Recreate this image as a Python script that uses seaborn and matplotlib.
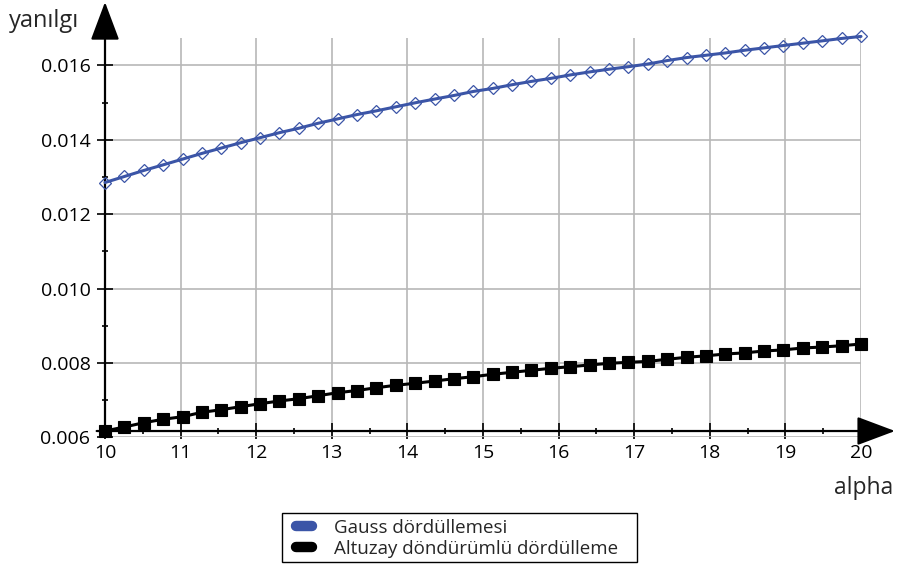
import numpy as np
import pandas as pd
import matplotlib
matplotlib.use("Agg")
import matplotlib.pyplot as plt
from matplotlib.lines import Line2D
from matplotlib.patches import Rectangle
from matplotlib.ticker import MultipleLocator, FormatStrFormatter
import seaborn as sns

# alpha sample grid (40 evenly spaced points from 10 to 20)
alpha = np.linspace(10, 20, 40)

gauss = [0.012849, 0.013011, 0.013173, 0.013324, 0.013478, 0.013632, 0.013776, 0.013919,
         0.014054, 0.014189, 0.014308, 0.014443, 0.014559, 0.014676, 0.014776, 0.014884,
         0.014992, 0.015092, 0.015189, 0.015297, 0.015378, 0.015478, 0.015568, 0.015649,
         0.015741, 0.015822, 0.015895, 0.015962, 0.016035, 0.016127, 0.016208, 0.016270,
         0.016332, 0.016405, 0.016468, 0.016532, 0.016595, 0.016657, 0.016722, 0.016776]

altuzay = [0.006169, 0.006277, 0.006392, 0.006484, 0.006554, 0.006672, 0.006742, 0.006823,
           0.006903, 0.006976, 0.007038, 0.007118, 0.007199, 0.007258, 0.007333, 0.007398,
           0.007452, 0.007513, 0.007575, 0.007629, 0.007694, 0.007747, 0.007801, 0.007855,
           0.007898, 0.007944, 0.007989, 0.008016, 0.008040, 0.008097, 0.008151, 0.008190,
           0.008239, 0.008270, 0.008320, 0.008350, 0.008401, 0.008427, 0.008462, 0.008508]

series_names = ["Gauss dördüllemesi", "Altuzay döndürümlü dördülleme"]
x_label = "alpha"
y_label = "yanılgı"

blue = "#3b55a7"
black = "#000000"

sns.set_style("white")
plt.rcParams["font.family"] = ["Open Sans", "DejaVu Sans"]

W, H = 897, 569
fig = plt.figure(figsize=(W / 100, H / 100), dpi=100)
ax = fig.add_axes([105 / W, 1 - 437.3 / H, 756 / W, 399.3 / H])

sns.lineplot(x=alpha, y=gauss, ax=ax, color=blue, linewidth=2.2,
             marker="D", markersize=6.4, markerfacecolor="none",
             markeredgecolor=blue, markeredgewidth=0.9, zorder=4, clip_on=False)
sns.lineplot(x=alpha, y=altuzay, ax=ax, color=black, linewidth=2.2,
             marker="s", markersize=8, markerfacecolor=black,
             markeredgecolor=black, markeredgewidth=0.8, zorder=4, clip_on=False)

ax.set_xlim(10, 20)
ax.set_ylim(0.006, 0.016734)
ax.set_xlabel("")
ax.set_ylabel("")

for s in ax.spines.values():
    s.set_visible(False)

# x axis sits where the lowest curve starts
x_axis_level = min(altuzay)
ax.spines["bottom"].set_position(("data", x_axis_level))

ax.xaxis.set_major_locator(MultipleLocator(1))
ax.xaxis.set_minor_locator(MultipleLocator(0.5))
ax.yaxis.set_major_locator(MultipleLocator(0.002))
ax.yaxis.set_minor_locator(MultipleLocator(0.001))
ax.yaxis.set_major_formatter(FormatStrFormatter("%.3f"))

ax.tick_params(axis="both", which="major", direction="inout", length=11, width=1.2,
               color="black", labelsize=14, labelcolor="black", left=True, bottom=True)
ax.tick_params(axis="both", which="minor", direction="inout", length=5, width=1.2,
               color="black", left=True, bottom=True)
ax.tick_params(axis="y", which="major", pad=5)
ax.tick_params(axis="x", which="major", pad=4)

ax.grid(True, which="major", color="#b8b8b8", linewidth=1.2)
ax.set_axisbelow(True)

# axis lines with arrow heads
arrow_kw = dict(arrowstyle="-|>,head_length=1.2,head_width=0.45", color="black",
                linewidth=1.6, mutation_scale=20, shrinkA=0, shrinkB=0)
ax.annotate("", xy=(0, 1.09), xytext=(0, 0), xycoords="axes fraction",
            textcoords="axes fraction", arrowprops=arrow_kw, annotation_clip=False)
ax.annotate("", xy=(1.045, x_axis_level), xytext=(-0.011, x_axis_level),
            xycoords=("axes fraction", "data"), textcoords=("axes fraction", "data"),
            arrowprops=arrow_kw, annotation_clip=False)

fig.text(9 / W, 1 - 21 / H, y_label, fontsize=17, ha="left", va="center")
fig.text(893 / W, 1 - 488 / H, x_label, fontsize=16.5, ha="right", va="center")

# legend: rounded colour keys inside a plain rectangular frame
handles = [Line2D([0], [0], color=blue, linewidth=7.5, solid_capstyle="round"),
           Line2D([0], [0], color=black, linewidth=7.5, solid_capstyle="round")]
leg = fig.legend(handles, series_names, loc="center left",
                 bbox_to_anchor=(296 / W, 1 - 538.3 / H), fontsize=13.5,
                 frameon=False, handlelength=0.83, handletextpad=1.2,
                 borderpad=0, labelspacing=0.17, borderaxespad=0)
fig.patches.append(Rectangle((282 / W, 1 - 562 / H), 355 / W, 49 / H,
                             transform=fig.transFigure, fill=False,
                             edgecolor="black", linewidth=1.0))

fig.savefig("out.png", dpi=100)
